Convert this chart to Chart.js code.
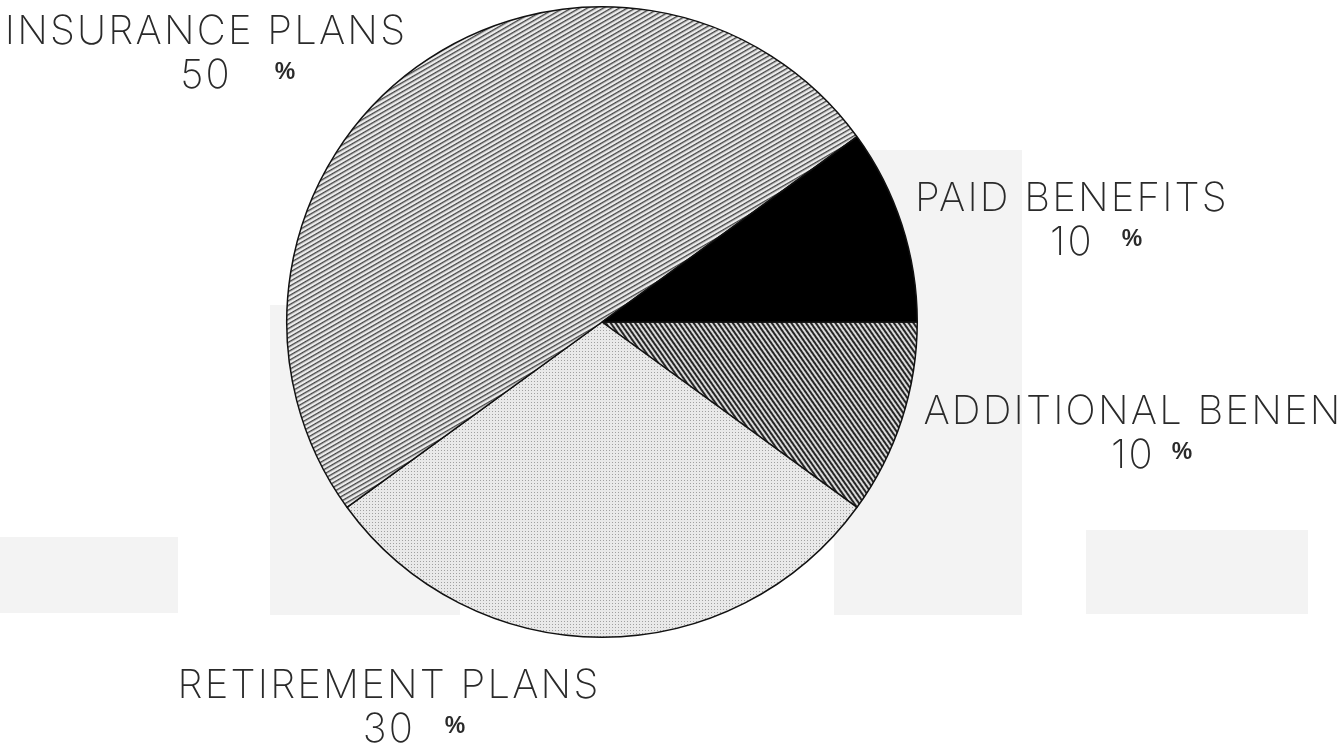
<!DOCTYPE html>
<html>
<head>
<meta charset="utf-8">
<script src="https://cdn.jsdelivr.net/npm/chart.js@4.4.1/dist/chart.umd.min.js"></script>
<style>
  html, body { margin: 0; padding: 0; background: #fff; overflow: hidden; }
  #beneficiosChart { display: block; }
</style>
</head>
<body>
<canvas id="beneficiosChart" width="1341" height="748"></canvas>
<script>
(() => {
    // slices run clockwise from three o'clock
    const categorias = ["ADDITIONAL BENEN", "RETIREMENT PLANS", "INSURANCE PLANS", "PAID BENEFITS"];
    const porcentajes = [10, 30, 50, 10];

    // where each caption sits (centre of the caption line, number line below it)
    const posEtiquetas = [
        { x: 1133, y: 412, pctX: 1182 },
        { x: 389,  y: 686, pctX: 455 },
        { x: 206,  y: 32,  pctX: 285 },
        { x: 1072, y: 199, pctX: 1132 }
    ];

    // faint shading that shows through the paper
    const sombras = [
        [0, 537, 178, 76],
        [270, 305, 190, 310],
        [834, 150, 188, 465],
        [1086, 530, 222, 84]
    ];

    function rayado(periodo, grosor, fondo, tinta, angulo) {
        const c = document.createElement("canvas");
        c.width = 8;
        c.height = periodo;
        const g = c.getContext("2d");
        g.fillStyle = fondo;
        g.fillRect(0, 0, 8, periodo);
        g.fillStyle = tinta;
        g.fillRect(0, 0, 8, grosor);
        const p = g.createPattern(c, "repeat");
        p.setTransform(new DOMMatrix().rotate(angulo));
        return p;
    }

    function punteado() {
        const c = document.createElement("canvas");
        c.width = 3;
        c.height = 3;
        const g = c.getContext("2d");
        g.fillStyle = "#e9e9e9";
        g.fillRect(0, 0, 3, 3);
        g.fillStyle = "#a0a0a0";
        g.fillRect(0, 0, 1, 1);
        return g.createPattern(c, "repeat");
    }

    const rellenos = [
        rayado(4, 2, "#dadada", "#262626", 55),
        punteado(),
        rayado(4, 1.4, "#ececec", "#444444", -30),
        "#000000"
    ];

    const fondoPapel = {
        id: "fondoPapel",
        beforeDraw(chart) {
            const ctx = chart.ctx;
            ctx.save();
            ctx.fillStyle = "#fff";
            ctx.fillRect(0, 0, chart.width, chart.height);
            ctx.fillStyle = "#f3f3f3";
            sombras.forEach(([x, y, w, h]) => ctx.fillRect(x, y, w, h));
            ctx.restore();
        }
    };

    const etiquetas = {
        id: "etiquetas",
        afterDraw(chart) {
            const ctx = chart.ctx;
            ctx.save();
            ctx.fillStyle = "#2a2a2a";
            ctx.textAlign = "center";
            ctx.textBaseline = "middle";
            categorias.forEach((nombre, i) => {
                const p = posEtiquetas[i];
                ctx.font = "200 40px Inter";
                ctx.letterSpacing = "2.2px";
                ctx.fillText(nombre, p.x, p.y);
                ctx.fillText(String(porcentajes[i]), p.x, p.y + 44);
                ctx.letterSpacing = "0px";
                ctx.font = "bold 23px 'Liberation Sans'";
                ctx.fillText("%", p.pctX, p.y + 41);
            });
            ctx.restore();
        }
    };

    const ctx = document.getElementById("beneficiosChart");
    new Chart(ctx, {
        type: "pie",
        data: {
            labels: categorias,
            datasets: [{
                data: porcentajes,
                backgroundColor: rellenos,
                borderColor: "#111",
                borderWidth: 1.5
            }]
        },
        options: {
            responsive: false,
            animation: false,
            rotation: 90,
            events: [],
            layout: { padding: { left: 0, right: 137, top: 6, bottom: 110 } },
            plugins: {
                legend: { display: false },
                tooltip: { enabled: false }
            }
        },
        plugins: [fondoPapel, etiquetas]
    });
})();
</script>
</body>
</html>
